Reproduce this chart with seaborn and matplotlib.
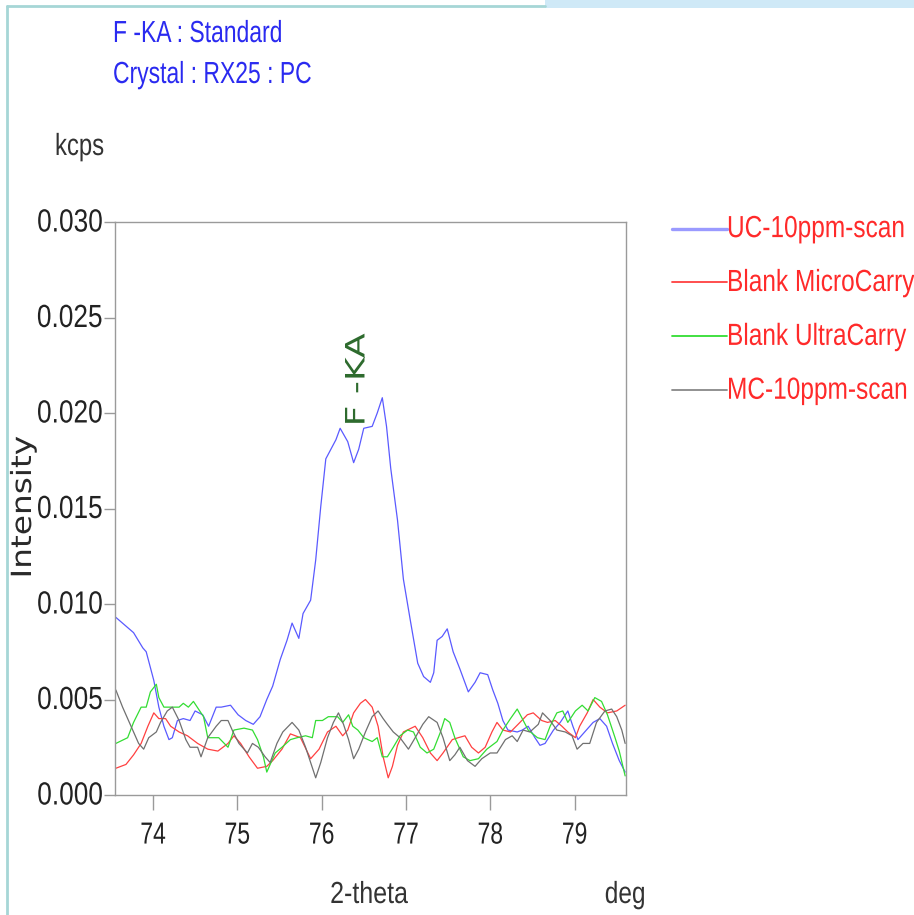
import numpy as np
import pandas as pd
import matplotlib
matplotlib.use("Agg")
import matplotlib.pyplot as plt
import seaborn as sns
from matplotlib.patches import Rectangle
from matplotlib.lines import Line2D
from matplotlib.patheffects import AbstractPathEffect
from matplotlib.transforms import Affine2D

# ---------------- data ----------------
uc_x = [73.56, 73.77, 73.88, 73.92, 74.01, 74.07, 74.13, 74.19, 74.23, 74.29, 74.36, 74.44, 74.50, 74.59,
        74.66, 74.75, 74.81, 74.92, 75.01, 75.10, 75.19, 75.27, 75.35, 75.42, 75.51, 75.59, 75.65, 75.73,
        75.78, 75.87, 75.93, 75.99, 76.05, 76.11, 76.17, 76.22, 76.31, 76.38, 76.44, 76.50, 76.60, 76.66,
        76.72, 76.77, 76.82, 76.90, 76.97, 77.05, 77.14, 77.21, 77.29, 77.33, 77.37, 77.43, 77.49, 77.56,
        77.64, 77.74, 77.82, 77.88, 77.97, 78.03, 78.09, 78.15, 78.21, 78.32, 78.38, 78.45, 78.53, 78.59,
        78.65, 78.75, 78.83, 78.92, 78.98, 79.04, 79.12, 79.22, 79.30, 79.38, 79.45, 79.53, 79.60]
uc_y = [0.0093, 0.0085, 0.0077, 0.0075, 0.0060, 0.0046, 0.0036, 0.0029, 0.0030, 0.0039, 0.0040, 0.0039,
        0.0044, 0.0042, 0.0036, 0.0046, 0.0046, 0.0047, 0.0042, 0.0039, 0.0037, 0.0041, 0.0050, 0.0057,
        0.0071, 0.0081, 0.0090, 0.0082, 0.0095, 0.0102, 0.0123, 0.0151, 0.0176, 0.0181, 0.0186, 0.0192,
        0.0185, 0.0174, 0.0181, 0.0192, 0.0193, 0.0200, 0.0208, 0.0193, 0.0171, 0.0144, 0.0113, 0.0092,
        0.0069, 0.0062, 0.0059, 0.0064, 0.0081, 0.0083, 0.0087, 0.0075, 0.0066, 0.0054, 0.0059, 0.0064,
        0.0063, 0.0055, 0.0048, 0.0039, 0.0034, 0.0033, 0.0034, 0.0036, 0.0030, 0.0026, 0.0027, 0.0034,
        0.0038, 0.0044, 0.0036, 0.0029, 0.0033, 0.0038, 0.0040, 0.0036, 0.0027, 0.0018, 0.0012]

bmc_x = [73.56, 73.68, 73.77, 73.86, 73.94, 74.01, 74.07, 74.15, 74.21, 74.31, 74.41, 74.53, 74.65, 74.77,
         74.89, 74.96, 75.04, 75.14, 75.24, 75.35, 75.42, 75.53, 75.63, 75.75, 75.87, 75.97, 76.07, 76.17,
         76.25, 76.31, 76.38, 76.46, 76.52, 76.60, 76.67, 76.73, 76.79, 76.84, 76.90, 76.97, 77.11, 77.20,
         77.29, 77.37, 77.44, 77.55, 77.62, 77.70, 77.78, 77.86, 77.94, 78.02, 78.08, 78.15, 78.24, 78.33,
         78.44, 78.51, 78.61, 78.68, 78.77, 78.85, 78.92, 79.01, 79.06, 79.15, 79.22, 79.30, 79.39, 79.50,
         79.60]
bmc_y = [0.0014, 0.0016, 0.0021, 0.0027, 0.0036, 0.0043, 0.0040, 0.0040, 0.0036, 0.0033, 0.0031, 0.0027,
         0.0024, 0.0023, 0.0027, 0.0031, 0.0027, 0.0020, 0.0014, 0.0015, 0.0018, 0.0024, 0.0032, 0.0030,
         0.0019, 0.0024, 0.0033, 0.0036, 0.0031, 0.0034, 0.0043, 0.0048, 0.0050, 0.0046, 0.0036, 0.0020,
         0.0009, 0.0015, 0.0026, 0.0033, 0.0036, 0.0030, 0.0022, 0.0018, 0.0022, 0.0029, 0.0030, 0.0031,
         0.0025, 0.0022, 0.0025, 0.0033, 0.0038, 0.0034, 0.0033, 0.0037, 0.0042, 0.0043, 0.0039, 0.0038,
         0.0039, 0.0036, 0.0033, 0.0030, 0.0036, 0.0043, 0.0050, 0.0046, 0.0043, 0.0044, 0.0047]

buc_x = [73.56, 73.70, 73.77, 73.86, 73.92, 73.97, 74.04, 74.07, 74.13, 74.21, 74.31, 74.36, 74.42, 74.48,
         74.54, 74.60, 74.65, 74.72, 74.78, 74.89, 74.96, 75.08, 75.18, 75.24, 75.31, 75.35, 75.39, 75.45,
         75.53, 75.63, 75.71, 75.81, 75.89, 75.93, 76.01, 76.08, 76.19, 76.25, 76.32, 76.37, 76.43, 76.50,
         76.60, 76.66, 76.72, 76.78, 76.85, 76.93, 77.02, 77.09, 77.17, 77.25, 77.33, 77.41, 77.46, 77.52,
         77.58, 77.68, 77.76, 77.86, 77.96, 78.08, 78.15, 78.24, 78.32, 78.38, 78.45, 78.56, 78.65, 78.71,
         78.79, 78.86, 78.92, 79.01, 79.09, 79.16, 79.24, 79.32, 79.39, 79.48, 79.53, 79.60]
buc_y = [0.0027, 0.0030, 0.0038, 0.0046, 0.0046, 0.0054, 0.0058, 0.0051, 0.0046, 0.0046, 0.0046, 0.0048,
         0.0046, 0.0049, 0.0045, 0.0041, 0.0030, 0.0030, 0.0030, 0.0025, 0.0034, 0.0035, 0.0034, 0.0029,
         0.0020, 0.0012, 0.0016, 0.0022, 0.0025, 0.0029, 0.0030, 0.0031, 0.0030, 0.0039, 0.0039, 0.0041,
         0.0041, 0.0038, 0.0042, 0.0036, 0.0034, 0.0030, 0.0028, 0.0030, 0.0020, 0.0020, 0.0025, 0.0031,
         0.0034, 0.0033, 0.0025, 0.0022, 0.0024, 0.0033, 0.0040, 0.0038, 0.0030, 0.0020, 0.0018, 0.0019,
         0.0024, 0.0028, 0.0034, 0.0040, 0.0045, 0.0040, 0.0034, 0.0030, 0.0029, 0.0036, 0.0043, 0.0044,
         0.0038, 0.0044, 0.0047, 0.0044, 0.0051, 0.0049, 0.0042, 0.0030, 0.0023, 0.0010]

mc_x = [73.56, 73.64, 73.74, 73.83, 73.89, 73.95, 74.04, 74.09, 74.17, 74.23, 74.31, 74.39, 74.44, 74.53,
        74.57, 74.65, 74.75, 74.81, 74.89, 74.95, 75.02, 75.12, 75.18, 75.25, 75.33, 75.39, 75.47, 75.54,
        75.65, 75.73, 75.81, 75.87, 75.93, 75.99, 76.07, 76.14, 76.20, 76.26, 76.32, 76.38, 76.44, 76.52,
        76.60, 76.67, 76.73, 76.78, 76.85, 76.93, 77.03, 77.11, 77.20, 77.27, 77.37, 77.44, 77.52, 77.58,
        77.64, 77.73, 77.82, 77.90, 78.00, 78.08, 78.18, 78.26, 78.32, 78.39, 78.47, 78.57, 78.62, 78.71,
        78.79, 78.89, 78.97, 79.03, 79.10, 79.18, 79.26, 79.36, 79.44, 79.50, 79.56, 79.60]
mc_y = [0.0055, 0.0046, 0.0036, 0.0027, 0.0024, 0.0030, 0.0033, 0.0038, 0.0044, 0.0046, 0.0039, 0.0029,
        0.0025, 0.0025, 0.0020, 0.0030, 0.0036, 0.0039, 0.0039, 0.0033, 0.0027, 0.0022, 0.0027, 0.0025,
        0.0020, 0.0017, 0.0027, 0.0033, 0.0038, 0.0034, 0.0025, 0.0017, 0.0009, 0.0017, 0.0030, 0.0038,
        0.0043, 0.0037, 0.0029, 0.0019, 0.0024, 0.0033, 0.0041, 0.0044, 0.0040, 0.0037, 0.0033, 0.0030,
        0.0024, 0.0030, 0.0037, 0.0041, 0.0038, 0.0030, 0.0018, 0.0021, 0.0025, 0.0018, 0.0015, 0.0019,
        0.0022, 0.0022, 0.0029, 0.0031, 0.0028, 0.0034, 0.0033, 0.0037, 0.0043, 0.0039, 0.0034, 0.0033,
        0.0031, 0.0024, 0.0027, 0.0027, 0.0038, 0.0044, 0.0045, 0.0041, 0.0034, 0.0027]

series_names = ["UC-10ppm-scan", "Blank MicroCarry", "Blank UltraCarry", "MC-10ppm-scan"]
x_ticks = [74, 75, 76, 77, 78, 79]
y_ticks = [0.000, 0.005, 0.010, 0.015, 0.020, 0.025, 0.030]
peak_label = "F -KA"
peak_pos = (76.39, 0.0193)


# ---------------- helpers ----------------
class Stretch(AbstractPathEffect):
    """Draw glyphs scaled in their own frame (sx along the text, sy across it,
    about the baseline) to imitate a condensed face while keeping real text."""

    def __init__(self, sx=1.0, sy=1.0, anchor="left"):
        super().__init__()
        self.sx = sx
        self.sy = sy
        self.anchor = anchor

    def draw_path(self, renderer, gc, tpath, affine, rgbFace=None):
        ext = tpath.get_extents()
        if self.anchor == "center":
            c = 0.5 * (ext.x0 + ext.x1)
        elif self.anchor == "right":
            c = ext.x1
        else:
            c = 0.0
        t = Affine2D().translate(-c, 0).scale(self.sx, self.sy).translate(c, 0)
        renderer.draw_path(gc, tpath, t + affine, rgbFace)


def tall(sy, anchor="left"):
    return [Stretch(1.0, sy, anchor)]


sns.set_style("white")
plt.rcParams["font.family"] = ["Liberation Sans", "DejaVu Sans"]

palette = {
    "UC-10ppm-scan": "#5a5aff",
    "Blank MicroCarry": "#ff4040",
    "Blank UltraCarry": "#33dd33",
    "MC-10ppm-scan": "#707070",
}

frames = []
for name, xs, ys in zip(series_names, [uc_x, bmc_x, buc_x, mc_x], [uc_y, bmc_y, buc_y, mc_y]):
    frames.append(pd.DataFrame({"theta": xs, "intensity": ys, "series": name}))
df = pd.concat(frames, ignore_index=True)

W, H = 914, 915
fig = plt.figure(figsize=(W / 100, H / 100), dpi=100)
ax = fig.add_axes([115 / W, 1 - 795 / H, (626 - 115) / W, (795 - 222) / H])

sns.lineplot(data=df, x="theta", y="intensity", hue="series", hue_order=series_names,
             palette=palette, estimator=None, sort=False, linewidth=0.9, ax=ax, legend=False)

ax.set_xlim(73.55, 79.61)
ax.set_ylim(0.0, 0.030)
ax.set_xticks(x_ticks)
ax.set_xticklabels([str(t) for t in x_ticks])
ax.set_yticks(y_ticks)
ax.set_yticklabels([f"{t:.3f}" for t in y_ticks])
ax.set_xlabel("")
ax.set_ylabel("")
for sp in ax.spines.values():
    sp.set_visible(True)
    sp.set_color("#9a9a9a")
    sp.set_linewidth(1.0)
ax.tick_params(axis="x", direction="out", length=11, width=1, color="#9a9a9a", pad=11,
               labelsize=16.5, labelcolor="#222222")
ax.tick_params(axis="y", direction="out", length=8, width=1, color="#9a9a9a", pad=1,
               labelsize=18.9, labelcolor="#222222")
ax.tick_params(bottom=True, left=True)
for lbl in ax.get_xticklabels():
    lbl.set_path_effects(tall(1.33, "center"))
for lbl in ax.get_yticklabels():
    lbl.set_path_effects(tall(1.22, "right"))

# peak annotation
ax.text(peak_pos[0], peak_pos[1], peak_label, rotation=90, ha="center", va="bottom",
        color="#2e6b2e", fontsize=26, family=["DejaVu Sans"],
        path_effects=tall(0.74))

# legend
handles = [Line2D([], [], color=palette[n], linewidth=1.3) for n in series_names]
handles[0].set_color("#9a9aff")
handles[0].set_linewidth(2.4)
handles[3].set_color("#888888")
leg = fig.legend(handles, series_names, loc="upper left", bbox_to_anchor=(672 / W, 1 - 220 / H),
                 frameon=False, handlelength=2.25, handletextpad=0.0, labelspacing=1.30,
                 borderpad=0, borderaxespad=0, labelcolor="#ff2a2a", fontsize=17.6)
for t in leg.get_texts():
    t.set_path_effects(tall(1.25))

# texts
fig.text(113 / W, 1 - 42 / H, "F -KA : Standard", color="#2a2af0", fontsize=16.5, va="baseline",
         ha="left", path_effects=tall(1.33))
fig.text(113 / W, 1 - 83 / H, "Crystal : RX25 : PC", color="#2a2af0", fontsize=16.5, va="baseline",
         ha="left", path_effects=tall(1.33))
fig.text(55 / W, 1 - 155 / H, "kcps", color="#333333", fontsize=17.2, va="baseline", ha="left",
         path_effects=tall(1.28))
fig.text(369 / W, 1 - 903 / H, "2-theta", color="#333333", fontsize=18, va="baseline", ha="center",
         path_effects=tall(1.22))
fig.text(625 / W, 1 - 903 / H, "deg", color="#333333", fontsize=17.6, va="baseline", ha="center",
         path_effects=tall(1.25))
fig.text(23 / W, 1 - 507 / H, "Intensity", color="#2a2a2a", fontsize=20, rotation=90,
         va="center", ha="center", family=["DejaVu Sans"],
         path_effects=[Stretch(1.18, 1.0, "center")])

# window frame decorations
fig.add_artist(Line2D([7 / W, 7 / W], [0, 1 - 6 / H], color="#a6d6d6", linewidth=2, transform=fig.transFigure))
fig.add_artist(Line2D([7 / W, 545 / W], [1 - 6 / H, 1 - 6 / H], color="#a6d6d6", linewidth=2,
                      transform=fig.transFigure))
fig.add_artist(Rectangle((545 / W, 1 - 8 / H), (W - 545) / W, 8 / H, transform=fig.transFigure,
                         facecolor="#cfe9f7", edgecolor="none"))

fig.savefig("out.png", dpi=100)
